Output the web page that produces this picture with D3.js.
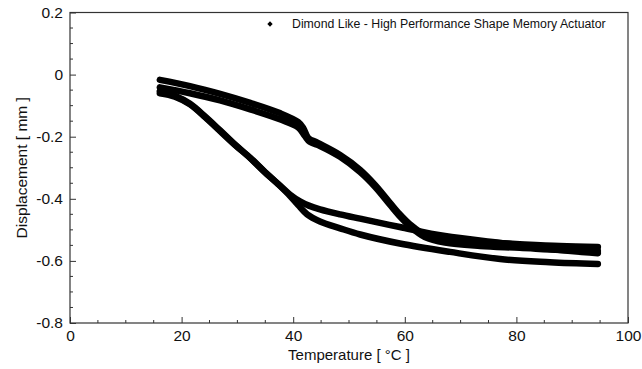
<!DOCTYPE html>
<html>
<head>
<meta charset="utf-8">
<script src="https://cdn.jsdelivr.net/npm/d3@7"></script>
<style>
  html, body { margin: 0; padding: 0; background: #fff; }
  svg { display: block; font-family: "Liberation Sans", Arial, Helvetica, sans-serif; }
</style>
</head>
<body>
<div id="chart"></div>
<script>
// [temperature °C, displacement mm]
const heatingA = [
  [16.1, -0.017], [21.5, -0.037], [26.9, -0.062], [32.3, -0.091], [37.6, -0.124],
  [40.9, -0.153], [41.8, -0.172], [42.7, -0.204], [44.4, -0.220], [48.4, -0.259],
  [52.0, -0.307], [54.7, -0.356], [57.3, -0.412], [59.1, -0.450], [60.9, -0.482],
  [63.6, -0.516], [67.2, -0.532], [73.5, -0.539], [80.6, -0.546], [87.8, -0.552],
  [94.6, -0.555]
];
const heatingB = [
  [16.1, -0.041], [21.5, -0.060], [26.9, -0.083], [32.3, -0.112], [37.6, -0.144],
  [40.9, -0.170], [42.1, -0.198], [43.0, -0.217], [44.8, -0.230], [48.4, -0.265],
  [52.0, -0.314], [54.7, -0.362], [57.3, -0.418], [59.1, -0.456], [60.9, -0.488],
  [63.6, -0.523], [67.2, -0.541], [73.5, -0.552], [80.6, -0.558], [87.8, -0.565],
  [94.6, -0.568]
];
const coolingA = [
  [16.1, -0.060], [18.8, -0.071], [21.5, -0.096], [24.2, -0.137], [26.9, -0.182],
  [29.6, -0.227], [32.3, -0.269], [34.9, -0.314], [37.6, -0.357], [39.4, -0.386],
  [41.2, -0.408], [42.8, -0.422], [44.8, -0.434], [48.4, -0.450], [52.0, -0.464],
  [59.1, -0.491], [67.2, -0.520], [77.1, -0.542], [86.0, -0.562], [94.6, -0.575]
];
const coolingB = [
  [16.1, -0.053], [18.8, -0.068], [21.5, -0.094], [24.2, -0.135], [26.9, -0.180],
  [29.6, -0.226], [32.3, -0.268], [34.9, -0.313], [37.6, -0.358], [39.4, -0.390],
  [40.9, -0.420], [42.5, -0.450], [44.8, -0.473], [48.4, -0.495], [52.0, -0.515],
  [59.1, -0.544], [68.1, -0.571], [77.1, -0.594], [86.0, -0.604], [94.6, -0.610]
];
const seriesList = [heatingA, heatingB, coolingA, coolingB];

const xTicks = [0, 20, 40, 60, 80, 100];
const yTicks = [-0.8, -0.6, -0.4, -0.2, 0, 0.2];
const legendLabel = "Dimond Like - High Performance Shape Memory Actuator";

const W = 642, H = 369;
const margin = { left: 70, right: 14, top: 12.5, bottom: 46 };
const width = W - margin.left - margin.right;
const height = H - margin.top - margin.bottom;
const axisColor = "#333";

const svg = d3.select("#chart").append("svg")
  .attr("width", W).attr("height", H);
const g = svg.append("g")
  .attr("transform", `translate(${margin.left},${margin.top})`);

const x = d3.scaleLinear().domain([0, 100]).range([0, width]);
const y = d3.scaleLinear().domain([-0.8, 0.2]).range([height, 0]);

// curves
const line = d3.line()
  .x(d => x(d[0]))
  .y(d => y(d[1]))
  .curve(d3.curveCatmullRom.alpha(0.5));

seriesList.forEach(s => {
  g.append("path")
    .attr("d", line(s))
    .attr("fill", "none")
    .attr("stroke", "#000")
    .attr("stroke-width", 6.5)
    .attr("stroke-linejoin", "round")
    .attr("stroke-linecap", "round");
});

// frame
g.append("rect")
  .attr("x", 0).attr("y", 0)
  .attr("width", width).attr("height", height)
  .attr("fill", "none")
  .attr("stroke", axisColor)
  .attr("stroke-width", 1.2);

// minor ticks (inward)
g.append("g").selectAll("line")
  .data(d3.range(0, 101, 5).filter(v => v % 20 !== 0))
  .join("line")
  .attr("x1", d => x(d)).attr("x2", d => x(d))
  .attr("y1", height).attr("y2", height - 3)
  .attr("stroke", axisColor);
g.append("g").selectAll("line")
  .data(d3.range(-16, 5).map(v => v * 0.05).filter(v => Math.abs(Math.round(v * 100)) % 20 !== 0))
  .join("line")
  .attr("x1", 0).attr("x2", 3)
  .attr("y1", d => y(d)).attr("y2", d => y(d))
  .attr("stroke", axisColor);

// major ticks
const xAxis = g.append("g")
  .attr("transform", `translate(0,${height})`)
  .call(d3.axisBottom(x).tickValues(xTicks).tickSize(-6).tickPadding(13).tickFormat(d => String(d)));
const yAxis = g.append("g")
  .call(d3.axisLeft(y).tickValues(yTicks).tickSize(-6).tickPadding(13)
    .tickFormat(d => d === 0 ? "0" : d.toFixed(1)));
[xAxis, yAxis].forEach(a => {
  a.select(".domain").remove();
  a.selectAll(".tick line").attr("stroke", axisColor);
  a.selectAll(".tick text")
    .attr("fill", "#111")
    .attr("font-size", 15.5)
    .attr("font-family", "'Liberation Sans', Arial, sans-serif");
});
yAxis.selectAll(".tick text").attr("x", -7);
xAxis.selectAll(".tick text").attr("dy", "0.85em").attr("y", 5);

// axis titles
svg.append("text")
  .attr("x", margin.left + width / 2)
  .attr("y", 360)
  .attr("text-anchor", "middle")
  .attr("font-size", 15)
  .attr("fill", "#111")
  .text("Temperature  [ °C ]");
svg.append("text")
  .attr("transform", `translate(27,${margin.top + height / 2}) rotate(-90)`)
  .attr("text-anchor", "middle")
  .attr("font-size", 15.5)
  .attr("fill", "#111")
  .text("Displacement  [ mm ]");

// legend
const leg = svg.append("g").attr("transform", "translate(270,24)");
leg.append("path")
  .attr("d", d3.symbol(d3.symbolDiamond2, 18)())
  .attr("fill", "#000");
leg.append("text")
  .attr("x", 22).attr("y", 4)
  .attr("font-size", 12.3)
  .attr("fill", "#111")
  .text(legendLabel);
</script>
</body>
</html>
